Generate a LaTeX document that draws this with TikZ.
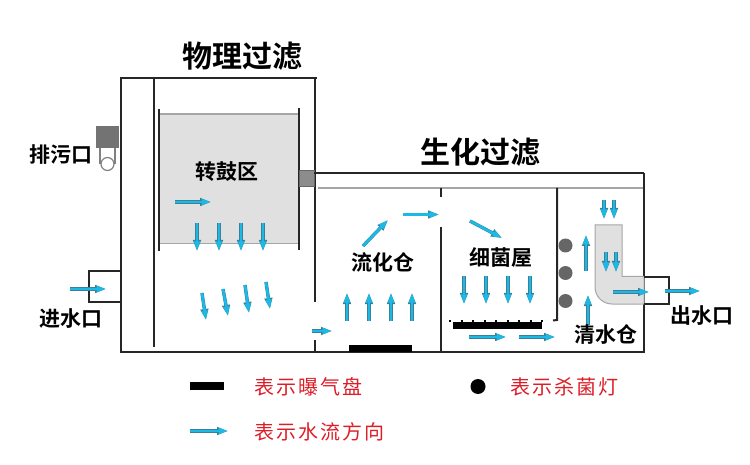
\documentclass[tikz,border=0pt]{standalone}
\usepackage{fontspec}
\usetikzlibrary{arrows.meta,positioning}
\newfontfamily\cjk[BoldFont={Noto Sans CJK SC Bold}]{Noto Sans CJK SC}
\definecolor{flowblue}{HTML}{1BB9E6}
\definecolor{flowedge}{HTML}{3C7F96}
\definecolor{wallgray}{HTML}{262626}
\definecolor{redtext}{HTML}{DC1E28}

\begin{document}
\begin{tikzpicture}[
    x=1pt,y=-1pt,
    wall/.style={draw=wallgray,line width=2pt},
    thinwall/.style={draw=gray!70,line width=1.2pt},
    flow/.style={preaction={draw=flowedge,line width=3.4pt,-{Triangle[length=11pt,width=7.5pt]}},-{Triangle[length=9.5pt,width=5.8pt]},flowblue,line width=2.6pt},
    title/.style={font=\cjk\bfseries\fontsize{30}{32}\selectfont},
    label/.style={font=\cjk\bfseries\fontsize{21}{24}\selectfont},
    legend/.style={font=\cjk\fontsize{20}{22}\selectfont\addfontfeature{LetterSpace=10},text=redtext,anchor=west,inner sep=0pt},
    lamp/.style={circle,fill=black!60,minimum size=14pt,inner sep=0pt}
  ]
    \useasboundingbox (0,0) rectangle (750,465);

    % Left: drum tank
    \fill[black!12] (160,114) rectangle (298,244);
    \draw[thinwall] (160,114) -- (298,114);
    \draw[thinwall,line width=1pt] (160,244) -- (298,244);
    \draw[wall] (158.5,109) -- (158.5,251);
    \draw[wall] (298.5,108) -- (298.5,250);
    \draw[wall] (154,78) -- (154,347);
    \draw[wall] (120.5,78) -- (317,78);
    \draw[wall] (120.5,77) -- (120.5,353);
    \draw[wall] (120,352) -- (644,352);
    \draw[wall] (314.5,78) -- (314.5,302);
    \draw[wall] (314.5,340) -- (314.5,352);
    \node[draw=black!60,fill=black!45,minimum width=15pt,minimum height=16pt,inner sep=0pt] (gate) at (306.5,178.5) {};

    % Drain and inlet
    \draw[black!50,line width=1.2pt] (100,148) -- (100,164) (115,148) -- (115,164);
    \draw[black!50,line width=1.2pt,fill=white] (107.5,164) circle (6.5);
    \node[fill=black!55,minimum width=23pt,minimum height=22pt,inner sep=0pt] (drain) at (107.5,137) {};
    \draw[wall] (120,271) -- (89,271) -- (89,301.5) -- (120,301.5);

    % Right: bio tanks
    \draw[wall] (314,173.5) -- (644,173.5);
    \draw[wall] (643.5,173) -- (643.5,353);
    \draw[thinwall] (318,188) -- (643,188);
    \draw[wall] (441,188) -- (441,197);
    \draw[wall] (441,227) -- (441,352);
    \draw[wall] (557,188) -- (557,320) -- (553,320.5);
    \draw[black,line width=1.5pt,dash pattern=on 2pt off 9.5pt] (449,321) -- (545,321);
    \node[fill=black,minimum width=89pt,minimum height=7pt,inner sep=0pt] (bed) at (497.5,325.5) {};
    \node[fill=black,minimum width=63pt,minimum height=7pt,inner sep=0pt] (disc) at (380.5,348.5) {};
    \node[lamp] (lamp1) at (565.5,245.5) {};
    \node[lamp] (lamp2) at (565.5,273) {};
    \node[lamp] (lamp3) at (565.5,301) {};

    % Outlet pipe
    \draw[black!35,fill=black!12,line width=1pt] (595,225) -- (622,225) -- (622,276.5) -- (644,276.5) -- (644,304) -- (612,304) to[out=180,in=-90] (595,287) -- cycle;
    \draw[wall] (644,277) -- (669,277) -- (669,304) -- (644,304);

    % Flow arrows
    \draw[flow] (175,202) -- (211,202);
    \foreach \x in {197,219,241,263} \draw[flow] (\x,223) -- (\x,251);
    \draw[flow] (202,293) -- (206,320);
    \draw[flow] (223,289) -- (228,316);
    \draw[flow] (245,285) -- (249,313);
    \draw[flow] (266,282) -- (270,309);
    \draw[flow] (70,289) -- (106,289);
    \draw[flow] (312,331) -- (332,331);
    \foreach \x in {347,369,391,412} \draw[flow] (\x,321) -- (\x,293);
    \draw[flow] (363,246) -- (388,220);
    \draw[flow] (403,214.5) -- (439,214.5);
    \draw[flow] (470,221) -- (502,238);
    \foreach \x in {464,486,508,530} \draw[flow] (\x,276) -- (\x,304);
    \draw[flow] (469,337) -- (506,337);
    \draw[flow] (519,337) -- (555,337);
    \draw[flow] (586,271) -- (586,235);
    \draw[flow] (588,325) -- (588,295);
    \foreach \x in {604,614} \draw[flow] (\x,200) -- (\x,219);
    \foreach \x in {606,616} \draw[flow] (\x,252) -- (\x,272);
    \draw[flow] (613,292) -- (649,292);
    \draw[flow] (665,291) -- (700,291);

    % Labels
    \node[title] (phys) at (242,56) {物理过滤};
    \node[title] (bio) at (480,152) {生化过滤};
    \node[label] (drum) at (227,172) {转鼓区};
    \node[label] (waste) at (61,155) {排污口};
    \node[label] (inlet) at (71,319) {进水口};
    \node[label] (fluid) at (383,262) {流化仓};
    \node[label] (germ) at (501,257) {细菌屋};
    \node[label] (clear) at (606,334) {清水仓};
    \node[label] (outlet) at (702,316) {出水口};

    % Legend
    \node[fill=black,minimum width=34pt,minimum height=8pt,inner sep=0pt] (keydisc) at (207,386) {};
    \node[legend] (keydisctext) at (254,387) {表示曝气盘};
    \node[circle,fill=black,minimum size=15pt,inner sep=0pt] (keylamp) at (478,386.5) {};
    \node[legend] (keylamptext) at (510,387) {表示杀菌灯};
    \draw[flow] (190,431) -- (228,431);
    \node[legend] (keyflowtext) at (254,432) {表示水流方向};
\end{tikzpicture}
\end{document}
